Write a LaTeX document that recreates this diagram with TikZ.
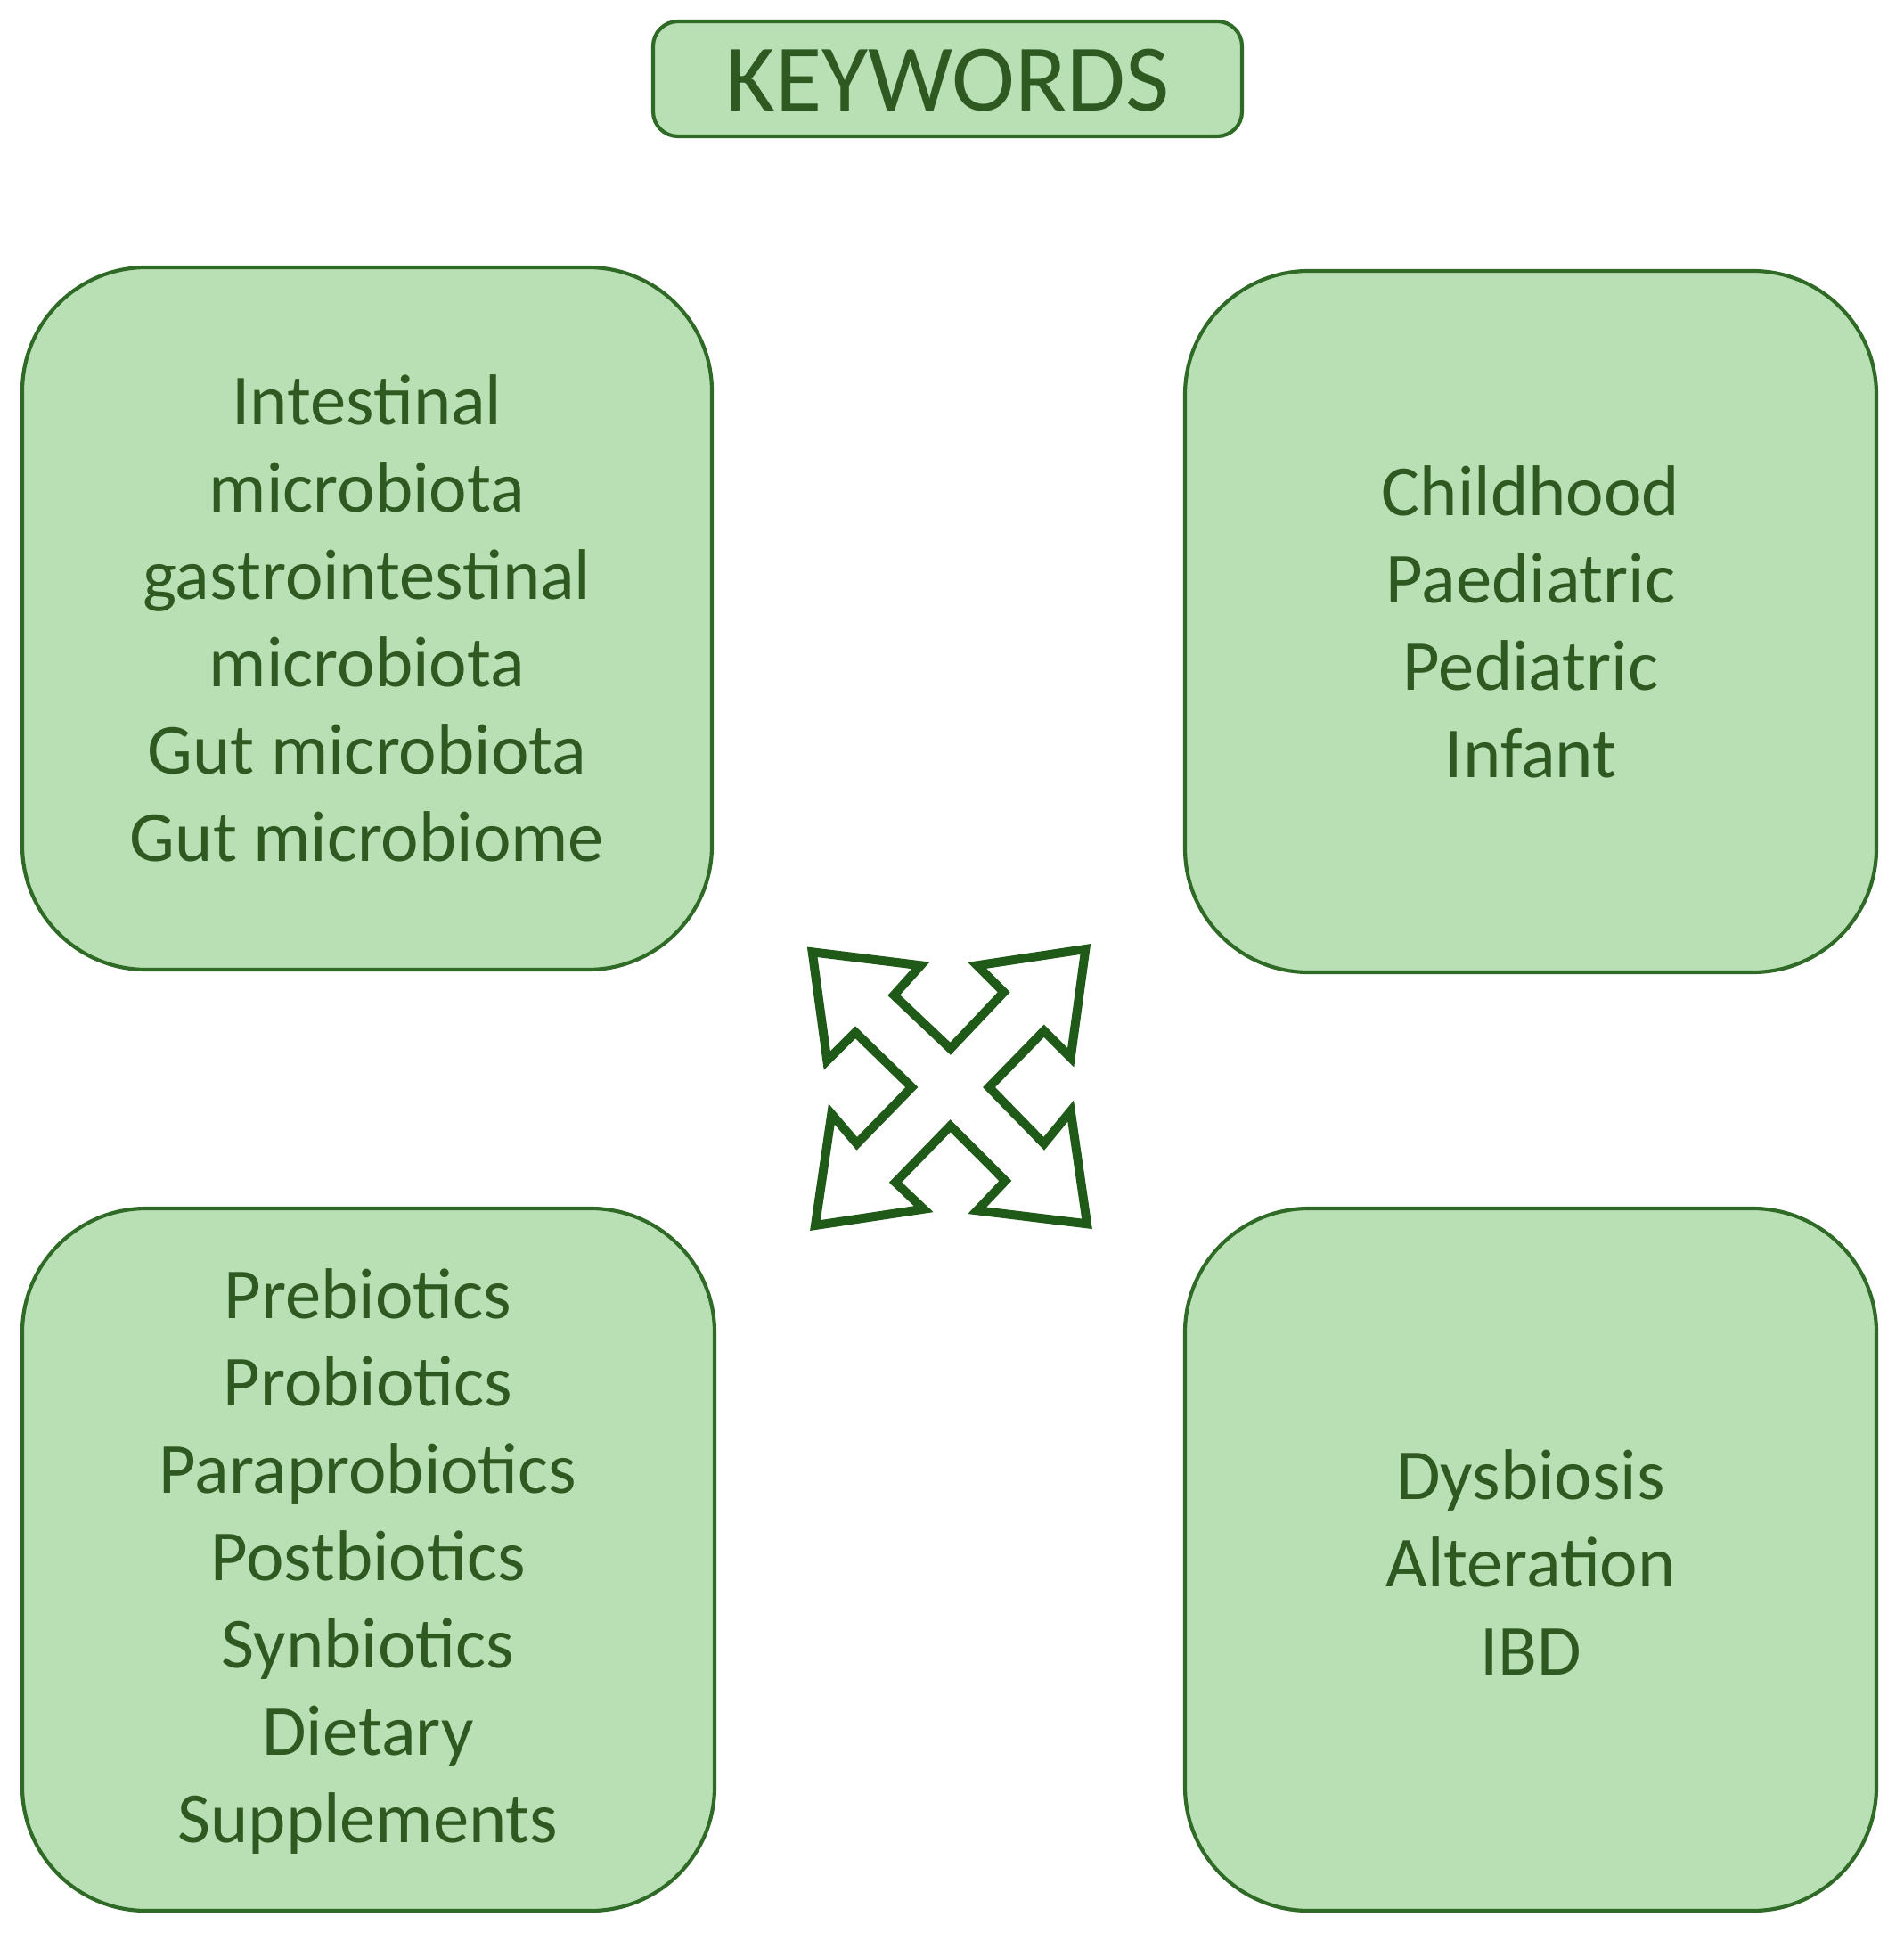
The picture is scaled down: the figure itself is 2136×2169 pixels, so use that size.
\documentclass[tikz,border=0pt]{standalone}
\usepackage{fontspec}
\setmainfont{Carlito}
\definecolor{boxfill}{HTML}{B9E0B4}
\definecolor{boxline}{HTML}{2F6B27}
\definecolor{txt}{HTML}{2E5A22}
\definecolor{arr}{HTML}{1F5A18}
\begin{document}
\begin{tikzpicture}[x=0.36pt,y=-0.36pt,
  box/.style={draw=boxline,line width=1.5pt,fill=boxfill},
  lbl/.style={text=txt,align=center,font=\fontsize{29}{35.3}\selectfont}]
\useasboundingbox (0,0) rectangle (2136,2169);
\draw[box,rounded corners=10pt] (733,24) rectangle (1394,153);
\node[text=txt,font=\fontsize{38.5}{44}\selectfont] (kw) at (1063.5,90) {KEYWORDS};
\draw[box,rounded corners=50pt] (25,300) rectangle (799,1088);
\node[lbl] (tl) at (412,694) {Intestinal\\microbiota\\gastrointestinal\\microbiota\\Gut microbiota\\Gut microbiome};
\draw[box,rounded corners=50pt] (1330,304) rectangle (2106,1091);
\node[lbl] (tr) at (1718,698) {Childhood\\Paediatric\\Pediatric\\Infant};
\draw[box,rounded corners=50pt] (25,1356) rectangle (802,2144);
\node[lbl] (bl) at (413,1752) {Prebiotics\\Probiotics\\Paraprobiotics\\Postbiotics\\Synbiotics\\Dietary\\Supplements};
\draw[box,rounded corners=50pt] (1330,1356) rectangle (2106,2144);
\node[lbl] (br) at (1718,1753) {Dysbiosis\\Alteration\\IBD};
\draw[draw=arr,line width=3.6pt,line join=miter,fill=white]
 (911.7,1068.3) -- (1033.3,1083.3) -- (1003.3,1116.7) -- (1066.7,1176.7) --
 (1126.7,1113.3) -- (1096.7,1083.3) -- (1218.3,1065) -- (1201.7,1186.7) --
 (1171.7,1156.7) -- (1110,1220) -- (1171.7,1283.3) -- (1201.7,1246.7) --
 (1220,1373.3) -- (1096.7,1358.3) -- (1128.3,1325) -- (1066.7,1263.3) --
 (1005,1326.7) -- (1036.7,1356.7) -- (915,1375) -- (933.3,1250) --
 (961.7,1283.3) -- (1023.3,1220) -- (960,1158.3) -- (928.3,1190) -- cycle;
\end{tikzpicture}
\end{document}
